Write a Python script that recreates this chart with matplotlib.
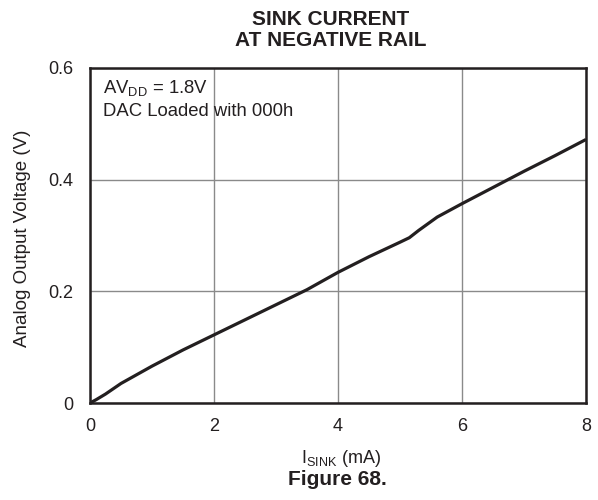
import matplotlib
matplotlib.use("Agg")
import matplotlib.pyplot as plt

plt.rcParams['font.family'] = ['Liberation Sans', 'DejaVu Sans']
plt.rcParams['mathtext.fontset'] = 'custom'
plt.rcParams['mathtext.rm'] = 'Liberation Sans'

i_sink = [0, 0.1, 0.25, 0.5, 1, 1.5, 2, 2.5, 3, 3.5, 4, 4.5, 5, 5.15, 5.3, 5.6, 6, 6.5, 7, 7.5, 8]
v_out = [0, 0.006, 0.016, 0.035, 0.066, 0.095, 0.122, 0.149, 0.176, 0.203, 0.234, 0.262,
         0.288, 0.296, 0.309, 0.333, 0.357, 0.386, 0.415, 0.443, 0.472]
x_ticks = [0, 2, 4, 6, 8]
y_ticks = [0, 0.2, 0.4, 0.6]
y_tick_labels = ['0', '0.2', '0.4', '0.6']

W, H = 598, 500
fig = plt.figure(figsize=(W / 100, H / 100), dpi=100)
ax = fig.add_axes([90 / W, 97 / H, 496 / W, 335 / H])
ax.plot(i_sink, v_out, color='#231f20', lw=2.3, solid_capstyle='butt')
ax.set_xlim(0, 8)
ax.set_ylim(0, 0.6)
ax.set_xticks(x_ticks)
ax.set_xticklabels([str(t) for t in x_ticks])
ax.set_yticks(y_ticks)
ax.set_yticklabels(y_tick_labels)
ax.grid(True, color='#8a8a8a', lw=1.0)
ax.set_axisbelow(True)
ax.tick_params(length=0, labelsize=13, colors='#231f20')
ax.tick_params(axis='x', pad=11)
ax.tick_params(axis='y', pad=12)
for s in ax.spines.values():
    s.set_linewidth(1.8)
    s.set_color('#231f20')

def fy(px):
    return 1 - px / H

fig.text(22.5 / W, fy(238), 'Analog Output Voltage (V)', rotation=90, ha='center', va='center',
         fontsize=13.5, color='#231f20')
fig.text(341 / W, fy(463), r'I$_{\mathregular{SINK}}$ (mA)', ha='center', va='baseline',
         fontsize=13, color='#231f20')
fig.text(337 / W, fy(485), 'Figure 68.', ha='center', va='baseline',
         fontsize=15, fontweight='bold', color='#231f20')
fig.text(331 / W, fy(25), 'SINK CURRENT', ha='center', va='baseline',
         fontsize=15, fontweight='bold', color='#231f20')
fig.text(331 / W, fy(46.5), 'AT NEGATIVE RAIL', ha='center', va='baseline',
         fontsize=15, fontweight='bold', color='#231f20')
fig.text(103 / W, fy(93), r'AV$_{\mathregular{DD}}$ = 1.8V', ha='left', va='baseline',
         fontsize=13.3, color='#231f20')
fig.text(103 / W, fy(116), 'DAC Loaded with 000h', ha='left', va='baseline',
         fontsize=13.3, color='#231f20')

fig.savefig('out.png', dpi=100)
